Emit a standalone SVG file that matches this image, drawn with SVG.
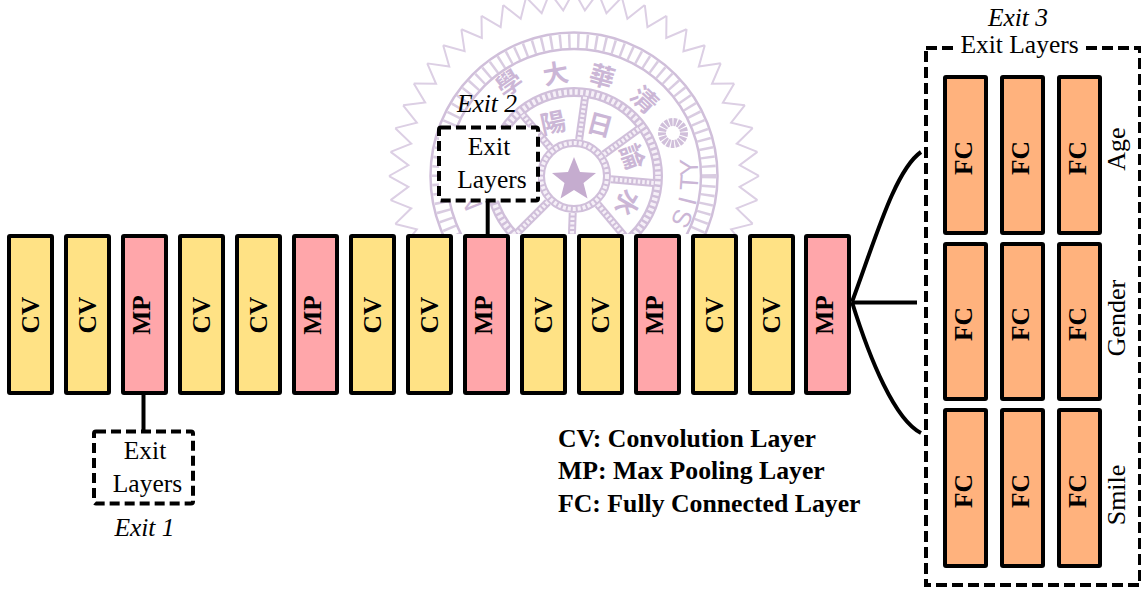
<svg xmlns="http://www.w3.org/2000/svg" width="1141" height="589" viewBox="0 0 1141 589">
<style>
text{font-family:"Liberation Serif","Times New Roman",serif;fill:#000;font-size:25.5px}
.b{font-weight:bold}
.i{font-style:italic}
.m{text-anchor:middle}
.lab{font-size:26px}
.leg{font-size:25.75px}
.block{stroke:#000;stroke-width:4}
.cv{fill:#FFE285}.mp{fill:#FFA6AA}.fc{fill:#FFB27D}
.dash{fill:#fff;stroke:#000;stroke-width:4;stroke-dasharray:10 5}
.conn{fill:none;stroke:#000;stroke-width:4}
.sl{fill:none;stroke:#d0bfda}
.sf{fill:#c5accf}
.st{font-family:"Noto Sans CJK TC","Liberation Sans",sans-serif;fill:#cbb6d6;font-weight:bold;text-anchor:middle}
.sa{font-family:"Liberation Sans",sans-serif;fill:#cbb6d6;text-anchor:middle;font-size:26px}
</style>
<defs>
<clipPath id="sealClip"><rect x="380" y="0" width="390" height="234"/></clipPath>
<polyline id="t1" points="759,176 739.6,186.9 757.4,200.1" fill="none" stroke="#dccfe4" stroke-width="2"/>
<g id="t2"><use href="#t1"/><use href="#t1" transform="rotate(7.5 574 176)"/></g>
<g id="t4"><use href="#t2"/><use href="#t2" transform="rotate(15 574 176)"/></g>
<g id="t8"><use href="#t4"/><use href="#t4" transform="rotate(30 574 176)"/></g>
<g id="t16"><use href="#t8"/><use href="#t8" transform="rotate(60 574 176)"/></g>
<g id="spoke"><line x1="611" y1="176" x2="654" y2="176" stroke="#d0bfda" stroke-width="8"/><line x1="611" y1="176" x2="654" y2="176" stroke="#f6f0f8" stroke-width="4" stroke-dasharray="2.500 2"/></g>
</defs>
<g id="seal" clip-path="url(#sealClip)">
<use href="#t16"/><use href="#t16" transform="rotate(120 574 176)"/><use href="#t16" transform="rotate(240 574 176)"/>
<circle class="sl" cx="574" cy="176" r="143.500" stroke-width="2.500"/>
<circle class="sl" cx="574" cy="176" r="127" stroke-width="2.500"/>
<circle class="sl" cx="574" cy="176" r="135" stroke-width="14" stroke-dasharray="2.500 6.500" opacity=".8"/>
<circle class="sl" cx="574" cy="176" r="84" stroke-width="10"/>
<circle cx="574" cy="176" r="84" fill="none" stroke="#f6f0f8" stroke-width="5.500" stroke-dasharray="3 2.500"/>
<circle class="sl" cx="574" cy="176" r="33" stroke-width="8"/>
<circle cx="574" cy="176" r="33" fill="none" stroke="#f6f0f8" stroke-width="4" stroke-dasharray="3 2"/>
<use href="#spoke" transform="rotate(-82 574 176)"/>
<use href="#spoke" transform="rotate(-36 574 176)"/>
<use href="#spoke" transform="rotate(5 574 176)"/>
<use href="#spoke" transform="rotate(50 574 176)"/>
<use href="#spoke" transform="rotate(92 574 176)"/>
<use href="#spoke" transform="rotate(135 574 176)"/>
<use href="#spoke" transform="rotate(-130 574 176)"/>
<polygon class="sf" points="574,157 580,172 596,173 583.5,183 587.5,198.600 574,190 560.500,198.600 564.500,183 552,173 568,172"/>
<circle cx="673" cy="133" r="11" fill="none" stroke="#d0bfda" stroke-width="8" stroke-dasharray="3 1"/>
<text class="st" font-size="36" y="13" transform="translate(507 80) rotate(-35)">學</text>
<text class="st" font-size="36" y="13" transform="translate(555 70) rotate(-10)">大</text>
<text class="st" font-size="36" y="13" transform="translate(603 73) rotate(16)">華</text>
<text class="st" font-size="36" y="13" transform="translate(647 97) rotate(43)">清</text>
<text class="st" font-size="26" y="9" transform="translate(553 123) rotate(-12)">陽</text>
<text class="st" font-size="26" y="9" transform="translate(600 125) rotate(15)">日</text>
<text class="st" font-size="26" y="9" transform="translate(632 157) rotate(70)">論</text>
<text class="st" font-size="26" y="9" transform="translate(627 203) rotate(120)">水</text>
<text class="sa" transform="translate(698 167) rotate(-92)">Y</text>
<text class="sa" transform="translate(698 183) rotate(-86)">T</text>
<text class="sa" transform="translate(696 203) rotate(-76)">I</text>
<text class="sa" transform="translate(690 222) rotate(-66)">S</text>
<text class="sa" transform="translate(463 204) rotate(68)">N</text>
</g>
<g id="connectors">
<line class="conn" x1="143.500" y1="395" x2="143.500" y2="431"/>
<line class="conn" x1="487.700" y1="201" x2="487.700" y2="236"/>
<path class="conn" d="M852 302C875 240 895 170 921 152"/>
<path class="conn" d="M852 302.500H917"/>
<path class="conn" d="M852 302C870 360 895 420 921 433"/>
</g>
<g id="cv1"><rect class="block cv" x="9" y="236" width="43" height="157" rx="1"/><text class="b m" transform="translate(39 315) rotate(-90)">CV</text></g>
<g id="cv2"><rect class="block cv" x="66" y="236" width="43" height="157" rx="1"/><text class="b m" transform="translate(96 315) rotate(-90)">CV</text></g>
<g id="mp3"><rect class="block mp" x="123" y="236" width="43" height="157" rx="1"/><text class="b m" transform="translate(150 315) rotate(-90)">MP</text></g>
<g id="cv4"><rect class="block cv" x="180" y="236" width="43" height="157" rx="1"/><text class="b m" transform="translate(210 315) rotate(-90)">CV</text></g>
<g id="cv5"><rect class="block cv" x="237" y="236" width="43" height="157" rx="1"/><text class="b m" transform="translate(267 315) rotate(-90)">CV</text></g>
<g id="mp6"><rect class="block mp" x="294" y="236" width="43" height="157" rx="1"/><text class="b m" transform="translate(321 315) rotate(-90)">MP</text></g>
<g id="cv7"><rect class="block cv" x="351" y="236" width="43" height="157" rx="1"/><text class="b m" transform="translate(381 315) rotate(-90)">CV</text></g>
<g id="cv8"><rect class="block cv" x="408" y="236" width="43" height="157" rx="1"/><text class="b m" transform="translate(438 315) rotate(-90)">CV</text></g>
<g id="mp9"><rect class="block mp" x="465" y="236" width="43" height="157" rx="1"/><text class="b m" transform="translate(492 315) rotate(-90)">MP</text></g>
<g id="cv10"><rect class="block cv" x="522" y="236" width="43" height="157" rx="1"/><text class="b m" transform="translate(552 315) rotate(-90)">CV</text></g>
<g id="cv11"><rect class="block cv" x="579" y="236" width="43" height="157" rx="1"/><text class="b m" transform="translate(609 315) rotate(-90)">CV</text></g>
<g id="mp12"><rect class="block mp" x="636" y="236" width="43" height="157" rx="1"/><text class="b m" transform="translate(663 315) rotate(-90)">MP</text></g>
<g id="cv13"><rect class="block cv" x="693" y="236" width="43" height="157" rx="1"/><text class="b m" transform="translate(723 315) rotate(-90)">CV</text></g>
<g id="cv14"><rect class="block cv" x="750" y="236" width="43" height="157" rx="1"/><text class="b m" transform="translate(780 315) rotate(-90)">CV</text></g>
<g id="mp15"><rect class="block mp" x="806" y="236" width="43" height="157" rx="1"/><text class="b m" transform="translate(833 315) rotate(-90)">MP</text></g>
<g id="exit1"><rect class="dash" x="94" y="431.500" width="99" height="72" rx="2"/><text class="m" x="145" y="459">Exit</text><text class="m" x="147.500" y="491.500">Layers</text><text class="i m" x="144.500" y="536">Exit 1</text></g>
<g id="exit2"><rect class="dash" x="439" y="127.500" width="99" height="73" rx="2"/><text class="m" x="489" y="155">Exit</text><text class="m" x="492" y="188">Layers</text><text class="i m" x="487" y="112">Exit 2</text></g>
<g id="exit3">
<rect class="dash" x="926" y="48" width="214" height="537" style="stroke-dasharray:11 5"/>
<rect x="957" y="38" width="129" height="20" fill="#fff"/>
<text class="m" x="1019.500" y="53">Exit Layers</text>
<text class="i m" x="1018" y="26">Exit 3</text>
</g>
<g id="fc-age">
<rect class="block fc" x="945" y="77" width="41" height="156" rx="1"/><text class="b m" transform="translate(971.500 158) rotate(-90)">FC</text>
<rect class="block fc" x="1002" y="77" width="41" height="156" rx="1"/><text class="b m" transform="translate(1028.500 158) rotate(-90)">FC</text>
<rect class="block fc" x="1059" y="77" width="41" height="156" rx="1"/><text class="b m" transform="translate(1085.500 158) rotate(-90)">FC</text>
<text class="m lab" transform="translate(1125 149) rotate(-90)">Age</text>
</g>
<g id="fc-gender">
<rect class="block fc" x="945" y="244" width="41" height="155" rx="1"/><text class="b m" transform="translate(971.500 324) rotate(-90)">FC</text>
<rect class="block fc" x="1002" y="244" width="41" height="155" rx="1"/><text class="b m" transform="translate(1028.500 324) rotate(-90)">FC</text>
<rect class="block fc" x="1059" y="244" width="41" height="155" rx="1"/><text class="b m" transform="translate(1085.500 324) rotate(-90)">FC</text>
<text class="m lab" transform="translate(1125 318) rotate(-90)">Gender</text>
</g>
<g id="fc-smile">
<rect class="block fc" x="945" y="410" width="41" height="156" rx="1"/><text class="b m" transform="translate(971.500 491) rotate(-90)">FC</text>
<rect class="block fc" x="1002" y="410" width="41" height="156" rx="1"/><text class="b m" transform="translate(1028.500 491) rotate(-90)">FC</text>
<rect class="block fc" x="1059" y="410" width="41" height="156" rx="1"/><text class="b m" transform="translate(1085.500 491) rotate(-90)">FC</text>
<text class="m lab" transform="translate(1125 495) rotate(-90)">Smile</text>
</g>
<g id="legend">
<text class="b leg" x="558" y="447">CV: Convolution Layer</text>
<text class="b leg" x="558" y="479">MP: Max Pooling Layer</text>
<text class="b leg" x="558" y="512">FC: Fully Connected Layer</text>
</g>
</svg>
